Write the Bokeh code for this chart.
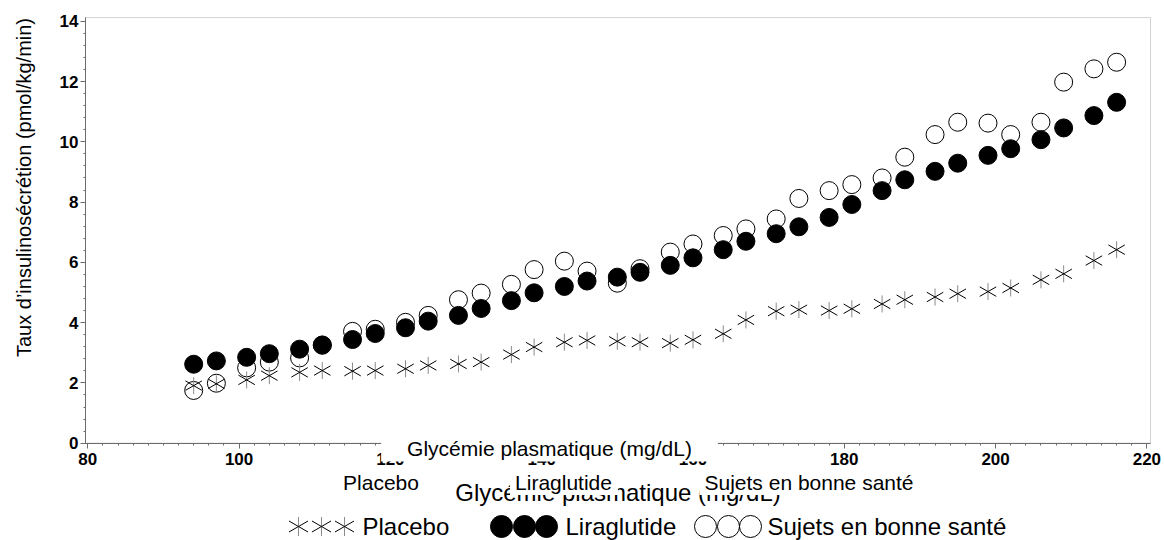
import math
from bokeh.plotting import figure
from bokeh.models import Range1d, SingleIntervalTicker, Label, LinearAxis, BoxAnnotation
from bokeh.layouts import column
from bokeh.embed import file_html
from bokeh.resources import INLINE
from bokeh.core.properties import value

# ---------------- data ----------------
glycemia = [94, 97, 101, 104, 108, 111, 115, 118, 122, 125, 129, 132, 136, 139,
            143, 146, 150, 153, 157, 160, 164, 167, 171, 174, 178, 181, 185, 188,
            192, 195, 199, 202, 206, 209, 213, 216]
placebo = [1.91, 1.97, 2.10, 2.24, 2.35, 2.41, 2.39, 2.41, 2.47, 2.58, 2.63, 2.69,
           2.94, 3.19, 3.35, 3.41, 3.38, 3.35, 3.32, 3.43, 3.63, 4.09, 4.38, 4.43,
           4.40, 4.46, 4.62, 4.76, 4.85, 4.96, 5.03, 5.15, 5.42, 5.62, 6.06, 6.42]
liraglutide = [2.62, 2.73, 2.85, 2.97, 3.12, 3.26, 3.44, 3.64, 3.83, 4.05, 4.24, 4.47,
               4.73, 4.99, 5.20, 5.38, 5.51, 5.67, 5.90, 6.15, 6.42, 6.70, 6.95, 7.18,
               7.49, 7.92, 8.38, 8.74, 9.02, 9.29, 9.55, 9.77, 10.07, 10.46, 10.87, 11.31]
healthy = [1.75, 1.99, 2.50, 2.69, 2.83, 3.25, 3.71, 3.78, 4.01, 4.24, 4.76, 4.98,
           5.27, 5.76, 6.04, 5.71, 5.31, 5.79, 6.34, 6.61, 6.89, 7.11, 7.44, 8.12,
           8.38, 8.58, 8.80, 9.49, 10.24, 10.65, 10.62, 10.24, 10.65, 11.98, 12.42, 12.64]
series_names = ["Placebo", "Liraglutide", "Sujets en bonne santé"]
x_title = "Glycémie plasmatique (mg/dL)"
y_title = "Taux d’insulinosécrétion (pmol/kg/min)"
x_axis_bounds = (79.7, 220.48)
y_axis_bounds = (0, 14.12)

FONT = "Liberation Sans"
AX = "#6b6b6b"

# ---------------- layout geometry (pixels -> data) ----------------
W, H = 1164, 511
PX_PER_X = 7.565          # px per mg/dL
PX_PER_Y = 30.14          # px per unit
X0_PX, Y0_PX = 85.0, 442.7  # screen position of (79.7, 0)
x_start = x_axis_bounds[0] - X0_PX / PX_PER_X
x_end = x_start + W / PX_PER_X
y_end = Y0_PX / PX_PER_Y
y_start = y_end - H / PX_PER_Y

def dx(px):
    return x_start + px / PX_PER_X

def dy(py):
    return y_end - py / PX_PER_Y

# ---------------- main plot ----------------
p = figure(width=W, height=H, x_range=Range1d(x_start, x_end), y_range=Range1d(y_start, y_end),
           output_backend="svg", toolbar_location=None,
           x_axis_type=None, y_axis_type=None, min_border=0)
p.outline_line_color = None
p.background_fill_color = "white"
p.border_fill_color = "white"

xaxis = LinearAxis(fixed_location=0, bounds=x_axis_bounds,
                   ticker=SingleIntervalTicker(interval=20, num_minor_ticks=10))
yaxis = LinearAxis(fixed_location=x_axis_bounds[0], bounds=y_axis_bounds,
                   ticker=SingleIntervalTicker(interval=2, num_minor_ticks=5))
for ax in (xaxis, yaxis):
    ax.axis_line_color = AX
    ax.major_tick_line_color = AX
    ax.minor_tick_line_color = AX
    ax.major_tick_out = 5
    ax.major_tick_in = 0
    ax.minor_tick_out = 2
    ax.minor_tick_in = 0
    ax.major_label_text_font = FONT
    ax.major_label_text_font_size = "17px"
    ax.major_label_text_font_style = "bold"
    ax.major_label_text_color = "black"
    ax.axis_label_text_font = FONT
    ax.axis_label_text_font_style = "normal"
    ax.axis_label_text_color = "black"
xaxis.axis_label = x_title
xaxis.axis_label_text_font_size = "24px"
xaxis.axis_label_standoff = 10
xaxis.major_label_standoff = 5
yaxis.major_label_standoff = 2
p.add_layout(xaxis, "below")
p.add_layout(yaxis, "left")

# frame outline (top / right)
p.add_layout(BoxAnnotation(left=x_axis_bounds[0], right=x_axis_bounds[1],
                           bottom=y_axis_bounds[0], top=y_axis_bounds[1],
                           fill_color=None, fill_alpha=0, line_color=AX, line_width=1,
                           level="underlay"))

def star(fig, xs, ys, vsize, dsize):
    fig.scatter(xs, ys, marker="dash", size=vsize, angle=math.pi / 2,
                line_color="#8a8a8a", line_width=1)
    fig.scatter(xs, ys, marker="dash", size=dsize, angle=math.pi / 6,
                line_color="black", line_width=1)
    fig.scatter(xs, ys, marker="dash", size=dsize, angle=-math.pi / 6,
                line_color="black", line_width=1)

p.scatter(glycemia, healthy, marker="circle", size=18, fill_color=None,
          line_color="black", line_width=1)
p.scatter(glycemia, liraglutide, marker="circle", size=18, fill_color="black",
          line_color="black", line_width=1)
star(p, glycemia, placebo, 17, 19)

# y title
p.add_layout(Label(x=dx(23), y=dy(187), text=y_title, angle=math.pi / 2,
                   text_font=FONT, text_font_size="20px", text_color="black",
                   text_align="center", text_baseline="middle", level="overlay"))

# overlapping text boxes, as in the reference
lab_kw = dict(text_font=FONT, text_color="black", background_fill_color="white",
              text_baseline="alphabetic", text_align="center", level="overlay")
p.add_layout(Label(x=dx(549), y=dy(448), text=x_title, text_font_size="21px",
                   padding=(26, 26, 1, 2), **lab_kw))
for px, name in zip([381, 563.5, 809], series_names):
    p.add_layout(Label(x=dx(px), y=dy(482), text=name, text_font_size="21px",
                       padding=(5, 6, 1, 1), **lab_kw))

# ---------------- legend row ----------------
leg = figure(width=W, height=540 - H, x_range=Range1d(0, W), y_range=Range1d(0, 540 - H),
             output_backend="svg", toolbar_location=None,
             x_axis_type=None, y_axis_type=None, min_border=0)
leg.outline_line_color = None
ly = 540 - H - 15
star(leg, [298, 321, 344], [ly] * 3, 19, 22)
leg.scatter([501, 524, 546], [ly] * 3, marker="circle", size=22, fill_color="black",
            line_color="black")
leg.scatter([705, 728, 750], [ly] * 3, marker="circle", size=22, fill_color=None,
            line_color="black")
leg.text(x=[362, 565, 767], y=[ly] * 3, text=series_names, text_font=value(FONT),
         text_font_size="24px", text_baseline="middle", text_align="left",
         text_color="black")

layout = column(p, leg, spacing=0)
open("out.html", "w").write(file_html(layout, INLINE))
